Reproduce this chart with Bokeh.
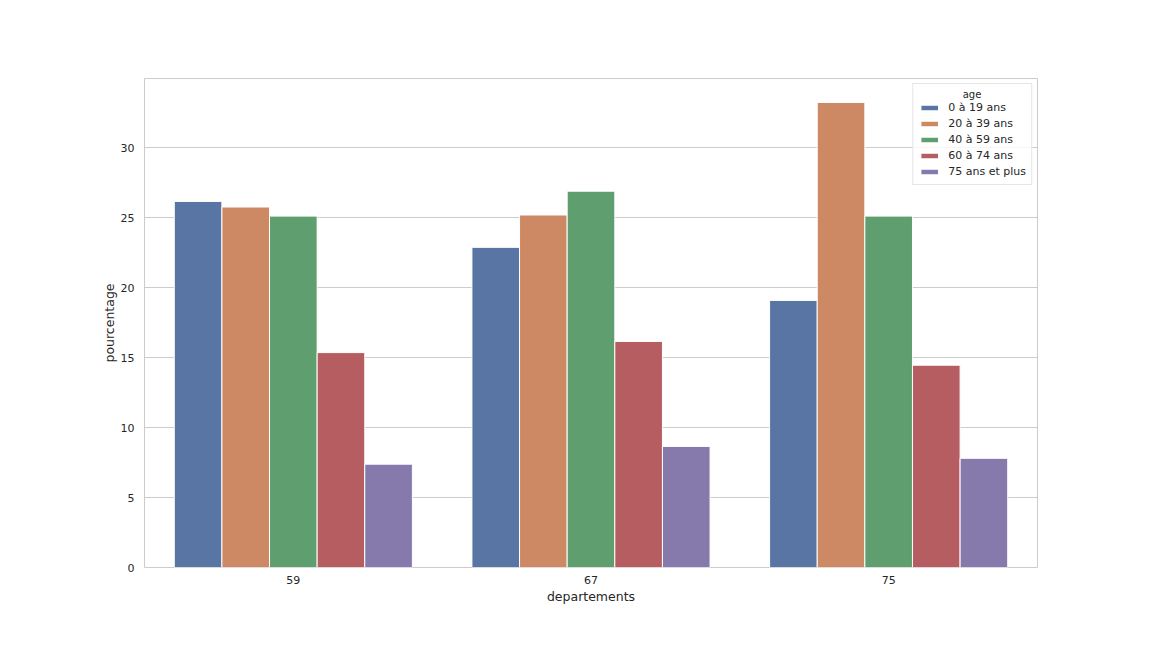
from bokeh.plotting import figure
from bokeh.models import ColumnDataSource, FactorRange, Range1d, Legend, LegendItem, SingleIntervalTicker
from bokeh.transform import dodge
from bokeh.embed import file_html
from bokeh.resources import INLINE

departements = ["59", "67", "75"]
ages = ["0 à 19 ans", "20 à 39 ans", "40 à 59 ans", "60 à 74 ans", "75 ans et plus"]
v_0_19 = [26.15, 22.87, 19.08]
v_20_39 = [25.75, 25.18, 33.22]
v_40_59 = [25.1, 26.88, 25.1]
v_60_74 = [15.35, 16.15, 14.45]
v_75_plus = [7.38, 8.65, 7.8]
series = [v_0_19, v_20_39, v_40_59, v_60_74, v_75_plus]
colors = ["#5875A4", "#CC8963", "#5F9E6E", "#B55D60", "#857AAB"]

FONT = "DejaVu Sans"
data = {"dep": departements}
for i, s in enumerate(series):
    data["s%d" % i] = s
src = ColumnDataSource(data)

p = figure(width=1136, height=632, x_range=FactorRange(*departements),
           y_range=Range1d(0, 34.93), output_backend="svg", toolbar_location=None,
           min_border_left=144, min_border_right=99, min_border_top=78, min_border_bottom=65)

renderers = []
offsets = [-0.32, -0.16, 0.0, 0.16, 0.32]
for i in range(5):
    r = p.vbar(x=dodge("dep", offsets[i], range=p.x_range), top="s%d" % i, width=0.16,
               source=src, fill_color=colors[i], line_color="white", line_width=1)
    renderers.append(r)

p.outline_line_color = "#cccccc"
p.outline_line_width = 1
p.background_fill_color = "white"
p.border_fill_color = "white"

p.xgrid.grid_line_color = None
p.ygrid.grid_line_color = "#cccccc"
p.ygrid.grid_line_width = 1

p.yaxis.ticker = SingleIntervalTicker(interval=5)
for ax in [p.xaxis[0], p.yaxis[0]]:
    ax.axis_line_color = None
    ax.major_tick_line_color = None
    ax.minor_tick_line_color = None
    ax.major_tick_out = 0
    ax.major_tick_in = 0
    ax.major_label_text_font = FONT
    ax.major_label_text_font_size = "11px"
    ax.major_label_text_color = "#262626"
    ax.axis_label_text_font = FONT
    ax.axis_label_text_font_size = "12.5px"
    ax.axis_label_text_font_style = "normal"
    ax.axis_label_text_color = "#262626"
p.xaxis.major_label_standoff = 8
p.yaxis.major_label_standoff = 6
p.xaxis.axis_label = "departements"
p.yaxis.axis_label = "pourcentage"
p.xaxis.axis_label_standoff = 2
p.yaxis.axis_label_standoff = 1

items = [LegendItem(label=ages[i], renderers=[renderers[i]]) for i in range(5)]
legend = Legend(items=items, location="top_right", title="\u00a0" * 14 + "age")
legend.title_text_font = FONT
legend.title_text_font_size = "10px"
legend.title_text_font_style = "normal"
legend.title_text_color = "#262626"
legend.title_standoff = 0
legend.label_text_font = FONT
legend.label_text_font_size = "11px"
legend.label_text_color = "#262626"
legend.glyph_width = 22
legend.glyph_height = 7
legend.label_height = 15
legend.spacing = 1
legend.padding = 5
legend.margin = 5
legend.border_line_color = "#cccccc"
legend.background_fill_alpha = 0.8
legend.label_standoff = 8
p.add_layout(legend)

open("out.html", "w").write(file_html(p, INLINE))
